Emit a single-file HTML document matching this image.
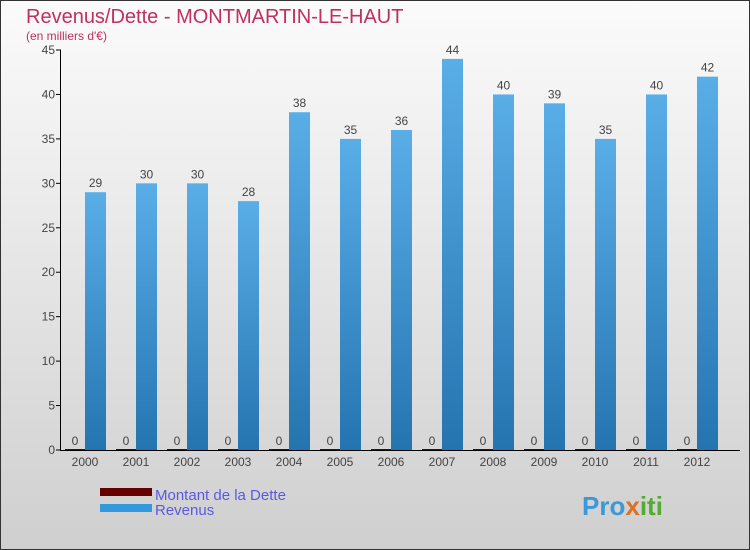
<!DOCTYPE html>
<html><head><meta charset="utf-8"><style>
body{margin:0;width:750px;height:550px;overflow:hidden;font-family:"Liberation Sans",sans-serif}
svg{display:block}
</style></head><body>
<svg id="chart" width="750" height="550" xmlns="http://www.w3.org/2000/svg">
<defs>
<linearGradient id="bg" x1="0" y1="0" x2="0" y2="1"><stop offset="0" stop-color="#fbfbfb"/><stop offset="1" stop-color="#cfcfcf"/></linearGradient>
<linearGradient id="bar" x1="0" y1="0" x2="0" y2="1"><stop offset="0" stop-color="#5aaee8"/><stop offset="1" stop-color="#2474b0"/></linearGradient>
</defs>
<rect x="0.5" y="0.5" width="749" height="549" fill="url(#bg)" stroke="#333"/>
<text x="26" y="23" font-size="20" fill="#c0305e">Revenus/Dette - MONTMARTIN-LE-HAUT</text>
<text x="26" y="40" font-size="12" fill="#c0305e">(en milliers d'€)</text>
<g id="plot"></g>
<rect x="100" y="488" width="52" height="8" fill="#660000"/>
<text x="155" y="500" font-size="15" fill="#5a5ae0">Montant de la Dette</text>
<rect x="100" y="504" width="52" height="8" fill="#3399dd"/>
<text x="155" y="515" font-size="15" fill="#5a5ae0">Revenus</text>
<text x="582" y="515" font-size="26" font-weight="bold" fill="#3a9ad9">Pro<tspan fill="#e07020">x</tspan><tspan fill="#55aa33">iti</tspan></text>
</svg>
<script>
const years=["2000","2001","2002","2003","2004","2005","2006","2007","2008","2009","2010","2011","2012"];
const revenus=[29,30,30,28,38,35,36,44,40,39,35,40,42];
const dette=[0,0,0,0,0,0,0,0,0,0,0,0,0];
const yTicks=[0,5,10,15,20,25,30,35,40,45];
const NS="http://www.w3.org/2000/svg";
const g=document.getElementById('plot');
const y0=450,yTop=50,yMax=45;
const yS=v=>y0-(v/yMax)*(y0-yTop);
const xC=i=>85+i*51;
function mk(t,a,txt){const e=document.createElementNS(NS,t);for(const k in a)e.setAttribute(k,a[k]);if(txt!==undefined)e.textContent=txt;g.appendChild(e);return e;}
yTicks.forEach(v=>{
 const l=mk('line',{x1:56,x2:61,y1:yS(v),y2:yS(v),stroke:'#000'});
 
 
 const t=mk('text',{x:55,y:yS(v)+4,'text-anchor':'end','font-size':12,fill:'#444'},v);
 
 
});
years.forEach((yr,i)=>{
 const c=xC(i);
 const d=mk('rect',{x:c-20,y:yS(dette[i])-1,width:20,height:y0-yS(dette[i])+1,fill:'#660000'});
 
 
 const dl=mk('text',{x:c-10,y:yS(dette[i])-5,'text-anchor':'middle','font-size':12,fill:'#444'},dette[i]);
 
 
 const r=mk('rect',{x:c,y:yS(revenus[i]),width:21,height:y0-yS(revenus[i]),fill:'url(#bar)'});
 
 
 const rl=mk('text',{x:c+10.5,y:yS(revenus[i])-5,'text-anchor':'middle','font-size':12,fill:'#444'},revenus[i]);
 
 
 const xl=mk('text',{x:c,y:466,'text-anchor':'middle','font-size':12,fill:'#444'},yr);
 
 
});
const ya=mk('line',{x1:60.5,x2:60.5,y1:50,y2:450,stroke:'#000'});


const xa=mk('line',{x1:60,x2:740,y1:450.5,y2:450.5,stroke:'#000'});


</script>
</body></html>
